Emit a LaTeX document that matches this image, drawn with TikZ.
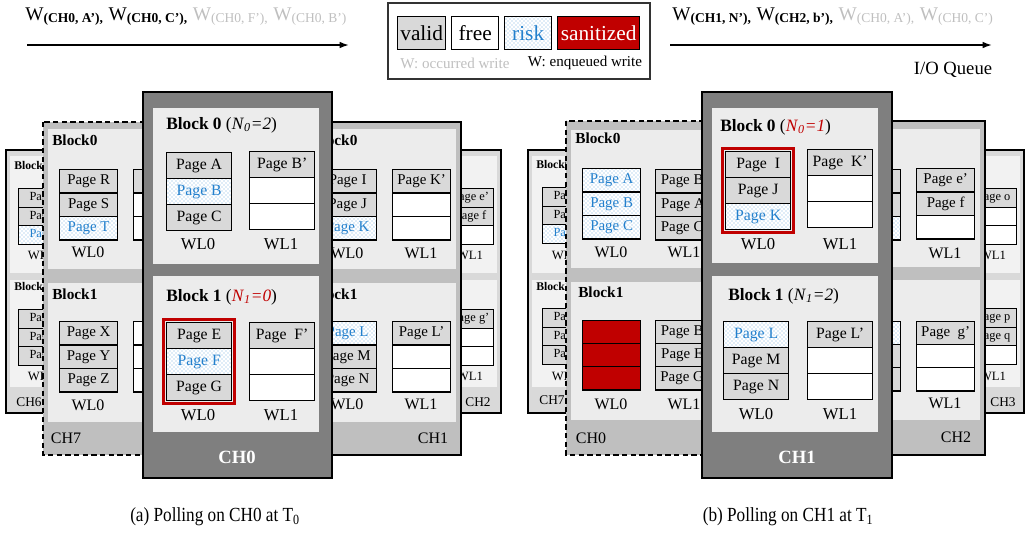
\documentclass[tikz,border=0pt]{standalone}
\usepackage{fontspec}
\setmainfont{Liberation Serif}
\usetikzlibrary{arrows.meta,positioning,fit,patterns}

\definecolor{validgray}{RGB}{217,217,217}
\definecolor{sanred}{RGB}{192,0,0}
\definecolor{riskblue}{RGB}{35,128,205}
\definecolor{occgray}{RGB}{191,191,191}
\definecolor{frontgray}{RGB}{127,127,127}
\definecolor{midgray}{RGB}{191,191,191}
\definecolor{backgray}{RGB}{217,217,217}
\definecolor{blkbg}{RGB}{236,236,236}
\definecolor{backblk}{RGB}{242,242,242}

% one word line: name, x, y, row step (px), cell style, style/text list
\newcommand{\wlstack}[6]{%
  \foreach \cellsty/\celltxt [count=\n] in {#6}
    \node[#5,\cellsty] (#1-\n) at (#2,{#3+#4*(\n-1)}) {\celltxt};}
\newcommand{\nval}[2]{\textit{N}\textsubscript{\textit{#1}}\textit{=#2}}

\begin{document}
\begin{tikzpicture}[
  x=0.75pt, y=-0.75pt,
  valid/.style={fill=validgray},
  free/.style={fill=white},
  risk/.style={preaction={fill=white},pattern=crosshatch dots,pattern color=riskblue!60,text=riskblue},
  san/.style={fill=sanred},
  fcell/.style={draw,line width=1pt,anchor=north west,inner sep=0pt,minimum width=48.75pt,minimum height=19.5pt,font=\fontsize{11.8}{13}\selectfont},
  mcell/.style={draw,line width=1pt,anchor=north west,inner sep=0pt,minimum width=43.5pt,minimum height=17.6pt,font=\fontsize{11.2}{12}\selectfont},
  bcell/.style={draw,line width=0.9pt,anchor=north west,inner sep=0pt,minimum width=34.5pt,minimum height=13.9pt,font=\fontsize{9.3}{10}\selectfont},
  lgcell/.style={draw,line width=1pt,anchor=north west,inner sep=0pt,minimum height=24.75pt,font=\fontsize{16}{18}\selectfont},
  frontch/.style={draw=black,line width=2.2pt,fill=frontgray},
  midch/.style={draw=black,line width=1.2pt,fill=midgray},
  backch/.style={draw=black,line width=1.1pt,fill=backgray},
  dashch/.style={dash pattern=on 4pt off 2.5pt},
  fblk/.style={fill=blkbg},
  mblk/.style={fill=blkbg},
  bblk/.style={fill=backblk},
  fblkl/.style={anchor=west,inner sep=0pt,font=\fontsize{13}{15}\selectfont},
  mblkl/.style={anchor=west,inner sep=0pt,font=\fontsize{11.5}{13}\selectfont\bfseries},
  bblkl/.style={anchor=west,inner sep=0pt,font=\fontsize{8.8}{10}\selectfont\bfseries},
  fwl/.style={inner sep=0pt,font=\fontsize{12.5}{14}\selectfont},
  mwl/.style={inner sep=0pt,font=\fontsize{12}{13}\selectfont},
  bwl/.style={inner sep=0pt,font=\fontsize{9.5}{11}\selectfont},
  fchl/.style={inner sep=0pt,text=white,font=\fontsize{14}{16}\selectfont\bfseries},
  mchl/.style={inner sep=0pt,font=\fontsize{12}{14}\selectfont},
  bchl/.style={inner sep=0pt,font=\fontsize{10}{12}\selectfont},
  hl/.style={draw=sanred,line width=1.9pt,inner sep=1.8pt},
  qtext/.style={anchor=base west,inner sep=0pt,font=\fontsize{14.5}{16}\selectfont},
  qarrow/.style={-{Latex[length=7pt,width=5pt]},line width=1.3pt},
  capt/.style={inner sep=0pt,font=\fontsize{15}{17}\selectfont}
]
\useasboundingbox (0,0) rectangle (1032,533);

% ---------------- queue and legend ----------------
\node[qtext] (qa-txt) at (25,20) {W\textsubscript{\textbf{(CH0, A'),}} W\textsubscript{\textbf{(CH0, C'),}} \textcolor{occgray}{W\textsubscript{(CH0, F'),} W\textsubscript{(CH0, B')}}};
\coordinate (qa-s) at (27,45);
\coordinate (qa-e) at (349,45);
\draw[qarrow] (qa-s) -- (qa-e);

\draw[line width=1pt,draw=black!80] (388,3) rectangle (650,79);
\node[lgcell,valid,minimum width=36pt] (lg-valid) at (397,16) {valid};
\node[lgcell,free,minimum width=35.25pt] (lg-free) at (451,16) {free};
\node[lgcell,risk,minimum width=35.25pt] (lg-risk) at (504,16) {risk};
\node[lgcell,san,text=white,minimum width=61.5pt] (lg-san) at (557,16) {sanitized};
\node[font=\fontsize{11.3}{13}\selectfont,text=occgray,inner sep=0pt] (lg-occ) at (455,63) {W: occurred write};
\node[font=\fontsize{11.3}{13}\selectfont,inner sep=0pt] (lg-enq) at (585,63) {W: enqueued write};

\node[qtext] (qb-txt) at (672,20) {W\textsubscript{\textbf{(CH1, N'),}} W\textsubscript{\textbf{(CH2, b'),}} \textcolor{occgray}{W\textsubscript{(CH0, A'),} W\textsubscript{(CH0, C')}}};
\coordinate (qb-s) at (670,45);
\coordinate (qb-e) at (992,45);
\draw[qarrow] (qb-s) -- (qb-e);
\node[font=\fontsize{14}{16}\selectfont,inner sep=0pt] (ioq) at (953,70) {I/O Queue};

% ---------------- (a) polling on CH0 ----------------
% CH6
\draw[backch] (6,150) rectangle (131,413);
\fill[bblk] (10,156) rectangle (127,273);
\fill[bblk] (10,280) rectangle (127,387);
\node[bblkl] (a-ch6-b0) at (14,165) {Block0};
\node[bblkl] (a-ch6-b1) at (14,286) {Block1};
\wlstack{a-ch6-b0-w0}{18}{188}{18.5}{bcell}{valid/Page,valid/Page,risk/Page}
\wlstack{a-ch6-b1-w0}{18}{309}{18.5}{bcell}{valid/Page,valid/Page,valid/Page}
\node[bwl] (a-ch6-wl0a) at (41,255) {WL0};
\node[bwl] (a-ch6-wl0b) at (41,376) {WL0};
\node[bchl] (a-ch6-lbl) at (29,402) {CH6};

% CH2
\draw[backch] (376,150) rectangle (501,413);
\fill[bblk] (380,156) rectangle (497,273);
\fill[bblk] (380,280) rectangle (497,387);
\wlstack{a-ch2-b0-w1}{447}{188}{18.5}{bcell}{valid/Page e',valid/Page f,free/{}}
\wlstack{a-ch2-b1-w1}{447}{309}{18.5}{bcell}{valid/Page g',free/{},free/{}}
\node[bwl] (a-ch2-wl1a) at (470,255) {WL1};
\node[bwl] (a-ch2-wl1b) at (470,376) {WL1};
\node[bchl] (a-ch2-lbl) at (478,402) {CH2};

% CH7
\draw[midch,dashch] (43,122) rectangle (203,455);
\fill[mblk] (48,129) rectangle (198,269);
\fill[mblk] (48,283) rectangle (198,422);
\node[mblkl] (a-ch7-b0) at (52,140) {Block0};
\node[mblkl] (a-ch7-b1) at (52,294) {Block1};
\wlstack{a-ch7-b0-w0}{59}{169}{23.5}{mcell}{valid/Page R,valid/Page S,risk/Page T}
\wlstack{a-ch7-b0-w1}{133}{169}{23.5}{mcell}{valid/{},free/{},free/{}}
\wlstack{a-ch7-b1-w0}{59}{321}{23.5}{mcell}{valid/Page X,valid/Page Y,valid/Page Z}
\wlstack{a-ch7-b1-w1}{133}{321}{23.5}{mcell}{free/{},free/{},free/{}}
\node[mwl] (a-ch7-wl0a) at (88,252) {WL0};
\node[mwl] (a-ch7-wl0b) at (88,405) {WL0};
\node[mchl] (a-ch7-lbl) at (66,438) {CH7};

% CH1
\draw[midch] (301,122) rectangle (461,455);
\fill[mblk] (306,129) rectangle (456,269);
\fill[mblk] (306,283) rectangle (456,422);
\node[mblkl] (a-ch1-b0) at (312,140) {Block0};
\node[mblkl] (a-ch1-b1) at (312,294) {Block1};
\wlstack{a-ch1-b0-w0}{318}{169}{23.5}{mcell}{valid/Page I,valid/Page J,risk/Page K}
\wlstack{a-ch1-b0-w1}{392}{169}{23.5}{mcell}{valid/Page K',free/{},free/{}}
\wlstack{a-ch1-b1-w0}{318}{321}{23.5}{mcell}{risk/Page L,valid/Page M,valid/Page N}
\wlstack{a-ch1-b1-w1}{392}{321}{23.5}{mcell}{valid/Page L',free/{},free/{}}
\node[mwl] (a-ch1-wl0a) at (347,253) {WL0};
\node[mwl] (a-ch1-wl1a) at (421,253) {WL1};
\node[mwl] (a-ch1-wl0b) at (347,404) {WL0};
\node[mwl] (a-ch1-wl1b) at (421,404) {WL1};
\node[mchl] (a-ch1-lbl) at (433,438) {CH1};

% CH0 (polled)
\draw[frontch] (143,92) rectangle (332,478);
\fill[fblk] (153,108) rectangle (319,264);
\fill[fblk] (153,276) rectangle (319,432);
\node[fblkl] (a-ch0-b0) at (166,125) {\textbf{Block 0} (\nval{0}{2})};
\node[fblkl] (a-ch0-b1) at (166,297) {\textbf{Block 1} (\textcolor{sanred}{\nval{1}{0}})};
\wlstack{a-ch0-b0-w0}{166}{152}{26}{fcell}{valid/Page A,risk/Page B,valid/Page C}
\wlstack{a-ch0-b0-w1}{249}{151}{26}{fcell}{valid/Page B',free/{},free/{}}
\wlstack{a-ch0-b1-w0}{166}{322}{26}{fcell}{valid/Page E,risk/Page F,valid/Page G}
\wlstack{a-ch0-b1-w1}{249}{322}{26}{fcell}{valid/Page\ \ F',free/{},free/{}}
\node[hl,fit=(a-ch0-b1-w0-1)(a-ch0-b1-w0-3)] (a-ch0-hl) {};
\node[fwl] (a-ch0-wl0a) at (198,244) {WL0};
\node[fwl] (a-ch0-wl1a) at (281,244) {WL1};
\node[fwl] (a-ch0-wl0b) at (198,415) {WL0};
\node[fwl] (a-ch0-wl1b) at (281,415) {WL1};
\node[fchl] (a-ch0-lbl) at (237,457) {CH0};

\node[capt] (cap-a) at (215,517) {\scalebox{0.86}[1]{(a) Polling on CH0 at T\textsubscript{0}}};

% ---------------- (b) polling on CH1 ----------------
% CH7
\draw[backch] (528,150) rectangle (653,413);
\fill[bblk] (532,156) rectangle (649,273);
\fill[bblk] (532,280) rectangle (649,387);
\node[bblkl] (b-ch7-b0) at (536,164) {Block0};
\node[bblkl] (b-ch7-b1) at (536,286) {Block1};
\wlstack{b-ch7-b0-w0}{542}{187}{18.5}{bcell}{valid/Page,valid/Page,risk/Page}
\wlstack{b-ch7-b1-w0}{542}{308}{18.5}{bcell}{valid/Page,valid/Page,valid/Page}
\node[bwl] (b-ch7-wl0a) at (565,255) {WL0};
\node[bwl] (b-ch7-wl0b) at (565,376) {WL0};
\node[bchl] (b-ch7-lbl) at (552,400) {CH7};

% CH3
\draw[backch] (899,150) rectangle (1024,413);
\fill[bblk] (903,156) rectangle (1020,273);
\fill[bblk] (903,280) rectangle (1020,387);
\wlstack{b-ch3-b0-w1}{970}{188}{18.5}{bcell}{valid/Page o,free/{},free/{}}
\wlstack{b-ch3-b1-w1}{970}{308}{18.5}{bcell}{valid/Page p,valid/Page q,free/{}}
\node[bwl] (b-ch3-wl1a) at (993,255) {WL1};
\node[bwl] (b-ch3-wl1b) at (993,376) {WL1};
\node[bchl] (b-ch3-lbl) at (1003,402) {CH3};

% CH0
\draw[midch,dashch] (566,121) rectangle (726,455);
\fill[mblk] (571,130) rectangle (721,268);
\fill[mblk] (571,282) rectangle (721,420);
\node[mblkl] (b-ch0-b0) at (575,138) {Block0};
\node[mblkl] (b-ch0-b1) at (578,292) {Block1};
\wlstack{b-ch0-b0-w0}{582}{168}{23.5}{mcell}{risk/Page A,risk/Page B,risk/Page C}
\wlstack{b-ch0-b0-w1}{655}{169}{23.5}{mcell}{valid/Page B',valid/Page A',valid/Page C'}
\wlstack{b-ch0-b1-w0}{582}{320}{23}{mcell}{san/{},san/{},san/{}}
\wlstack{b-ch0-b1-w1}{655}{320}{23}{mcell}{valid/Page B',valid/Page E',valid/Page G'}
\node[mwl] (b-ch0-wl0a) at (611,252) {WL0};
\node[mwl] (b-ch0-wl1a) at (684,252) {WL1};
\node[mwl] (b-ch0-wl0b) at (611,404) {WL0};
\node[mwl] (b-ch0-wl1b) at (684,404) {WL1};
\node[mchl] (b-ch0-lbl) at (591,438) {CH0};

% CH2
\draw[midch] (825,121) rectangle (985,455);
\fill[mblk] (830,129) rectangle (980,267);
\fill[mblk] (830,280) rectangle (980,420);
\wlstack{b-ch2-b0-w0}{842}{169}{23.5}{mcell}{valid/{},valid/{},risk/{}}
\wlstack{b-ch2-b0-w1}{916}{168}{23.5}{mcell}{valid/Page e',valid/Page f,free/{}}
\wlstack{b-ch2-b1-w0}{842}{321}{23}{mcell}{risk/{},valid/{},valid/{}}
\wlstack{b-ch2-b1-w1}{916}{321}{23}{mcell}{valid/Page\ \ g',free/{},free/{}}
\node[mwl] (b-ch2-wl1a) at (945,253) {WL1};
\node[mwl] (b-ch2-wl1b) at (945,403) {WL1};
\node[mchl] (b-ch2-lbl) at (956,437) {CH2};

% CH1 (polled)
\draw[frontch] (702,92) rectangle (892,478);
\fill[fblk] (712,108) rectangle (878,263);
\fill[fblk] (712,276) rectangle (878,432);
\node[fblkl] (b-ch1-b0) at (720,127) {\textbf{Block 0} (\textcolor{sanred}{\nval{0}{1}})};
\node[fblkl] (b-ch1-b1) at (728,296) {\textbf{Block 1} (\nval{1}{2})};
\wlstack{b-ch1-b0-w0}{725}{151}{26}{fcell}{valid/Page\ \ I,valid/Page J,risk/Page K}
\wlstack{b-ch1-b0-w1}{807}{149}{26}{fcell}{valid/Page\ \ K',free/{},free/{}}
\wlstack{b-ch1-b1-w0}{723}{321}{26}{fcell}{risk/Page L,valid/Page M,valid/Page N}
\wlstack{b-ch1-b1-w1}{807}{321}{26}{fcell}{valid/Page L',free/{},free/{}}
\node[hl,fit=(b-ch1-b0-w0-1)(b-ch1-b0-w0-3)] (b-ch1-hl) {};
\node[fwl] (b-ch1-wl0a) at (758,244) {WL0};
\node[fwl] (b-ch1-wl1a) at (840,244) {WL1};
\node[fwl] (b-ch1-wl0b) at (756,414) {WL0};
\node[fwl] (b-ch1-wl1b) at (840,414) {WL1};
\node[fchl] (b-ch1-lbl) at (797,457) {CH1};

\node[capt] (cap-b) at (788,517) {\scalebox{0.86}[1]{(b) Polling on CH1 at T\textsubscript{1}}};
\end{tikzpicture}
\end{document}
